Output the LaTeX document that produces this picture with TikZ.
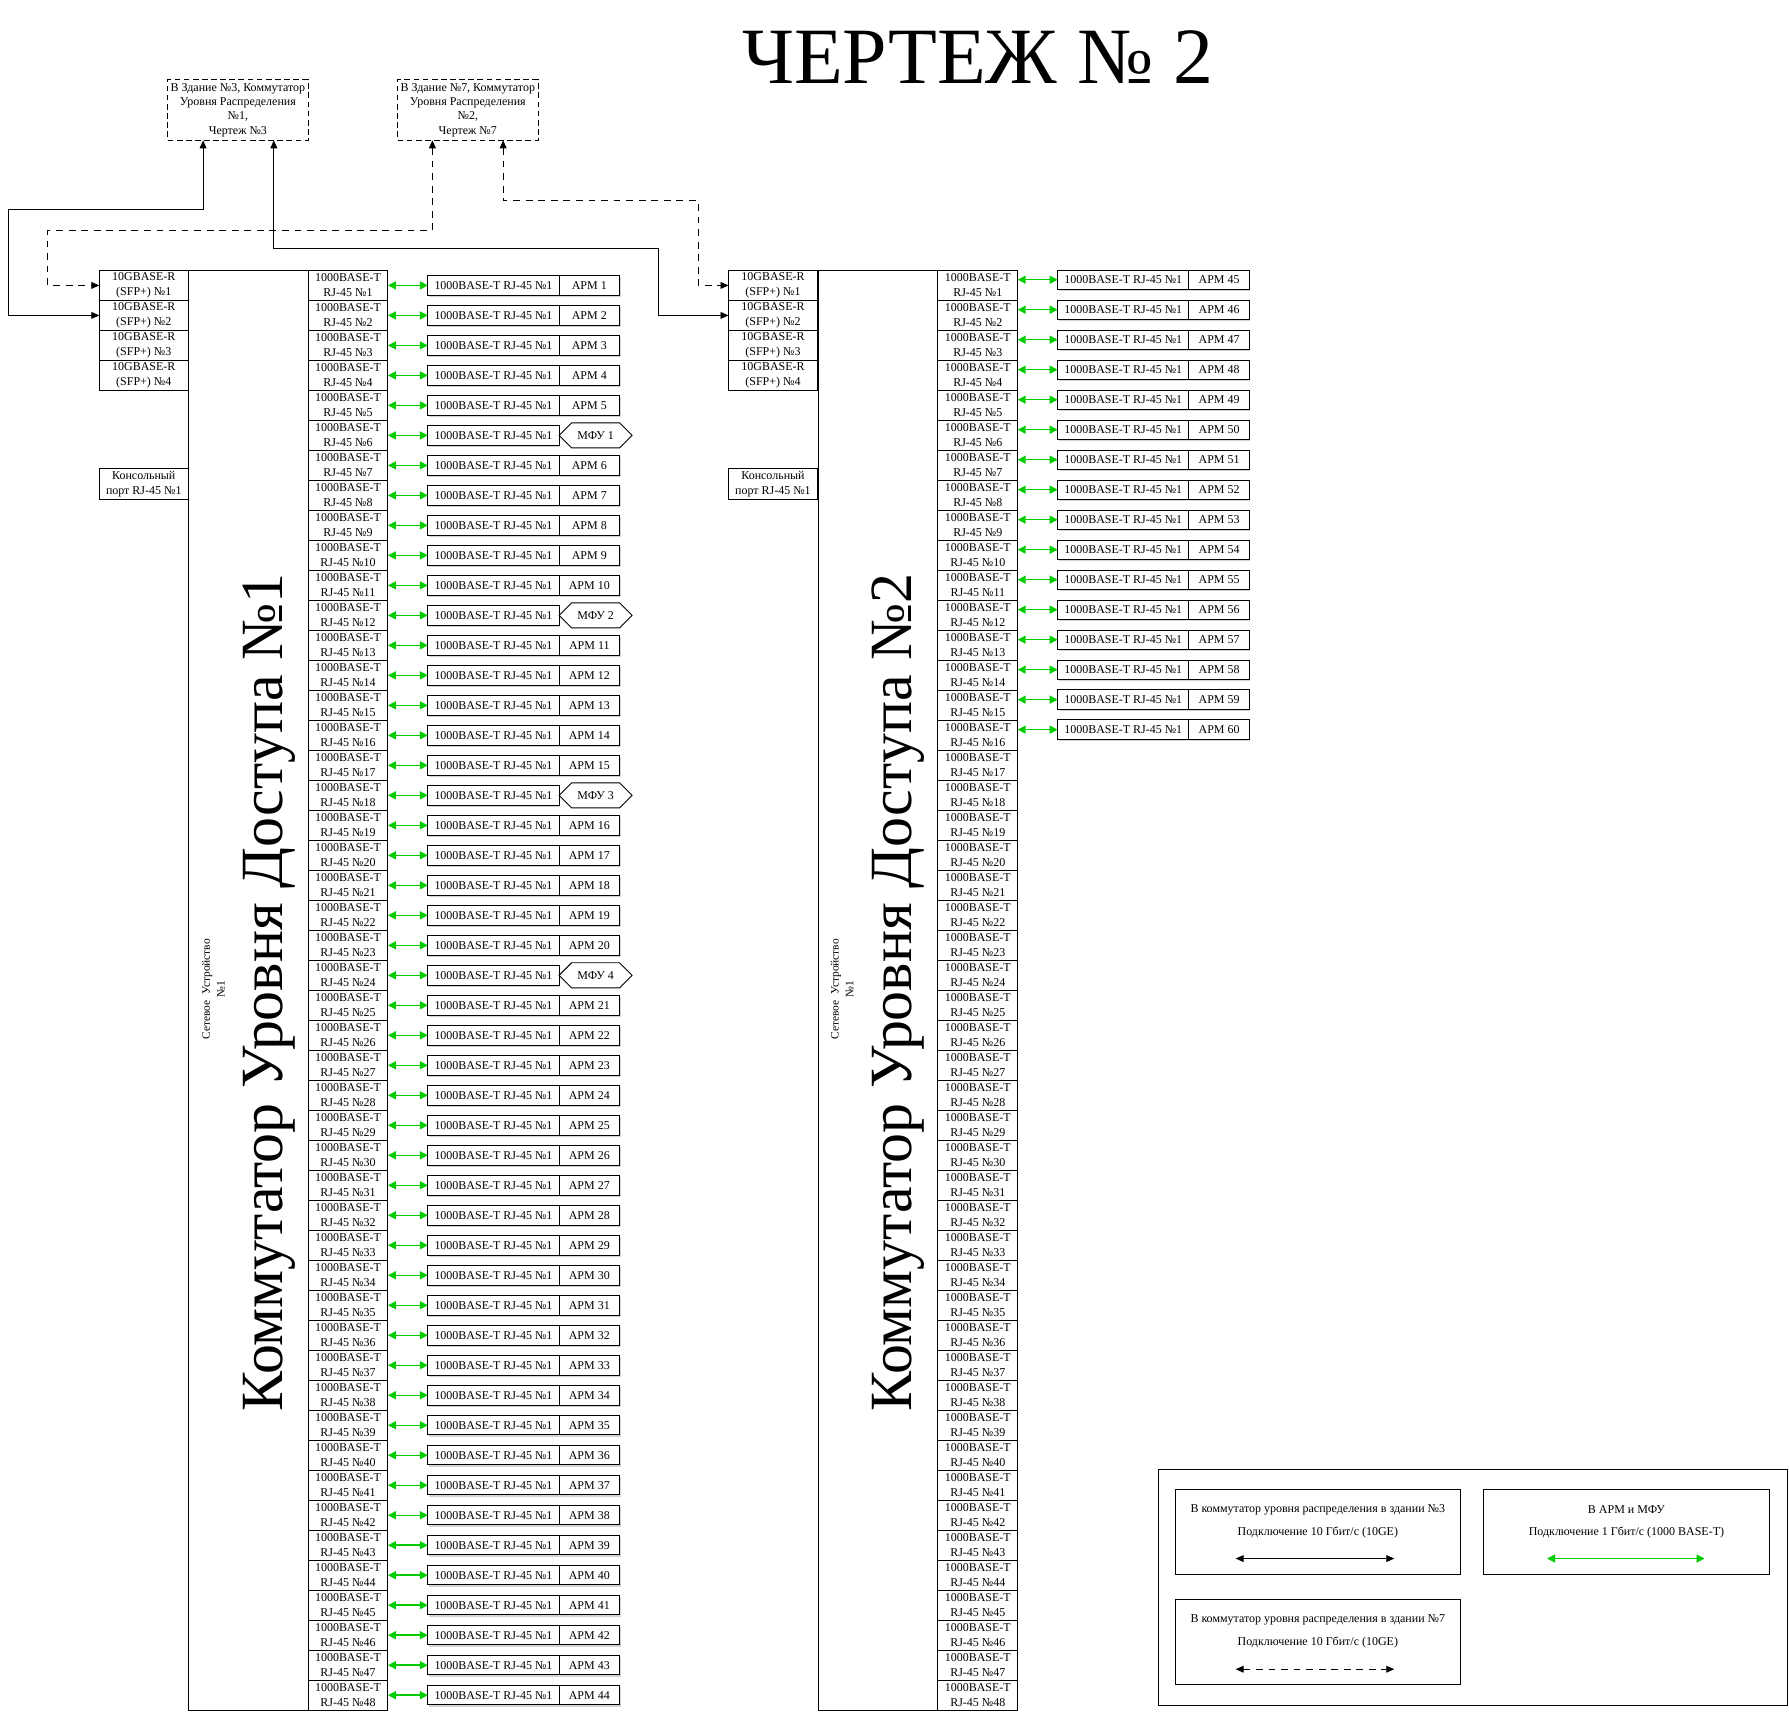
\documentclass[tikz,border=0pt]{standalone}
\usepackage{fontspec}
\setmainfont{Liberation Serif}
\usetikzlibrary{arrows.meta,shapes.symbols,shadows}
\definecolor{lgreen}{RGB}{0,204,0}
\begin{document}
\begin{tikzpicture}[x=1pt,y=-1pt,
  every node/.style={inner sep=0pt, outer sep=0pt},
  cell/.style={draw, line width=0.8pt, align=center, font=\fontsize{10.5}{13}\selectfont},
  portbox/.style={cell, minimum width=70pt, minimum height=26.29pt},
  sfpbox/.style={cell, minimum width=78pt, minimum height=26.29pt},
  body/.style={draw, line width=0.8pt, minimum width=105pt, minimum height=1262pt},
  devbox/.style={cell, fill=white, minimum width=115pt, minimum height=17pt,
    drop shadow={shadow xshift=1pt, shadow yshift=-1.5pt, opacity=0.35}},
  armbox/.style={cell, fill=white, minimum width=53pt, minimum height=17pt,
    drop shadow={shadow xshift=1pt, shadow yshift=-1.5pt, opacity=0.35}},
  mfubox/.style={cell, fill=white, signal, signal to=west and east, signal pointer angle=90,
    minimum width=64pt, minimum height=22pt},
  glink/.style={lgreen, line width=1.3pt, {Triangle[length=7pt,width=7pt]}-{Triangle[length=7pt,width=7pt]}},
  blink/.style={black, line width=0.8pt, {Triangle[length=7pt,width=6pt]}-{Triangle[length=7pt,width=6pt]}},
  dlink/.style={blink, dash pattern=on 6pt off 5pt},
  farbox/.style={draw, line width=0.8pt, dash pattern=on 5pt off 3pt, minimum width=123pt, minimum height=53pt,
    align=center, font=\fontsize{10.5}{12.5}\selectfont},
  legbox/.style={draw, line width=0.8pt, minimum width=250pt, minimum height=75pt},
  legtext/.style={font=\fontsize{10.5}{12}\selectfont},
  bigtext/.style={rotate=90, font=\fontsize{52.5}{60}\selectfont},
  smalltext/.style={rotate=90, align=center, font=\fontsize{10}{13}\selectfont},
]
\useasboundingbox (0,0) rectangle (1568,1500);

% title
\node[font=\fontsize{70}{84}\selectfont] (title) at (857,50) {ЧЕРТЕЖ № 2};

% far-end boxes
\node[farbox] (tA) at (208.5,96.5) {В Здание №3, Коммутатор\\Уровня Распределения\\№1,\\Чертеж №3};
\node[farbox] (tB) at (410,96.5) {В Здание №7, Коммутатор\\Уровня Распределения\\№2,\\Чертеж №7};

% switch bodies
\node[body] (b1) at (217.5,868) {};
\node[body] (b2) at (769.5,868) {};
\node[bigtext] (t1) at (236,870) {Коммутатор Уровня Доступа №1};
\node[bigtext] (t2) at (787,870) {Коммутатор Уровня Доступа №2};
\node[smalltext] (n1) at (187,867) {Сетевое\ \ Устройство\\№1};
\node[smalltext] (n2) at (738,867) {Сетевое\ \ Устройство\\№1};

% SFP ports
\foreach \i in {1,...,4}{
  \pgfmathsetmacro\yy{250.15+26.29*(\i-1)}
  \node[sfpbox] (s1-\i) at (126,\yy) {10GBASE-R\\(SFP+) №\i};
  \node[sfpbox] (s2-\i) at (677.5,\yy) {10GBASE-R\\(SFP+) №\i};
}
\node[sfpbox, minimum height=27pt] (c1) at (126,424.5) {Консольный\\порт RJ-45 №1};
\node[sfpbox, minimum height=27pt] (c2) at (677.5,424.5) {Консольный\\порт RJ-45 №1};

% RJ-45 ports and end devices
\foreach \i in {1,...,48}{
  \pgfmathsetmacro\yy{250.15+26.29*(\i-1)}
  \node[portbox] (p1-\i) at (305,\yy) {1000BASE-T\\RJ-45 №\i};
  \node[portbox] (p2-\i) at (857,\yy) {1000BASE-T\\RJ-45 №\i};
  \pgfmathtruncatemacro\m{mod(\i,6)}
  \pgfmathtruncatemacro\n{\i-min(4,floor(\i/6))}
  \pgfmathtruncatemacro\k{\i/6}
  \pgfmathtruncatemacro\ismfu{and(\i<25,\m==0)}
  \node[devbox, anchor=west] (d1-\i) at (375,\yy) {1000BASE-T RJ-45 №1};
  \ifnum\ismfu=1
    \node[mfubox, anchor=west] (a1-\i) at (d1-\i.east) {МФУ \k};
  \else
    \node[armbox, anchor=west] (a1-\i) at (d1-\i.east) {АРМ \n};
  \fi
  \draw[glink] (p1-\i.east) -- (d1-\i.west);
}
\foreach \i in {1,...,16}{
  \pgfmathsetmacro\yy{250.15+26.29*(\i-1)-5}
  \pgfmathtruncatemacro\n{\i+44}
  \node[devbox, anchor=west] (d2-\i) at (927,\yy) {1000BASE-T RJ-45 №1};
  \node[armbox, anchor=west] (a2-\i) at (d2-\i.east) {АРМ \n};
  \draw[glink] (p2-\i.east |- d2-\i.west) -- (d2-\i.west);
}

% uplinks
\draw[blink] ([xshift=-30.5pt]tA.south) |- (7,184) |- (s1-2.west);
\draw[dlink] ([xshift=-31pt]tB.south) |- (42,202) |- (s1-1.west);
\draw[blink] ([xshift=31.5pt]tA.south) |- (577,218) |- (s2-2.west);
\draw[dlink] ([xshift=31pt]tB.south) |- (612,176) |- (s2-1.west);

% legend
\node[draw, line width=0.8pt, minimum width=552pt, minimum height=207pt] (leg) at (1291,1391.5) {};
\node[legbox] (L1) at (1155,1342.5) {};
\node[legbox, minimum width=251pt] (L2) at (1425.5,1342.5) {};
\node[legbox, minimum height=74pt] (L3) at (1155,1439) {};
\node[legtext] (L1a) at (1155,1323) {В коммутатор уровня распределения в здании №3};
\node[legtext] (L1b) at (1155,1343) {Подключение 10 Гбит/с (10GE)};
\node[legtext] (L2a) at (1425.5,1323) {В АРМ и МФУ};
\node[legtext] (L2b) at (1425.5,1343) {Подключение 1 Гбит/с (1000 BASE-T)};
\node[legtext] (L3a) at (1155,1420) {В коммутатор уровня распределения в здании №7};
\node[legtext] (L3b) at (1155,1440) {Подключение 10 Гбит/с (10GE)};
\coordinate (L1l) at (1083,1366);
\coordinate (L1r) at (1222,1366);
\coordinate (L2l) at (1356,1366);
\coordinate (L2r) at (1494,1366);
\coordinate (L3l) at (1083,1463);
\coordinate (L3r) at (1222,1463);
\draw[blink] (L1l) -- (L1r);
\draw[glink] (L2l) -- (L2r);
\draw[dlink] (L3l) -- (L3r);
\end{tikzpicture}
\end{document}
